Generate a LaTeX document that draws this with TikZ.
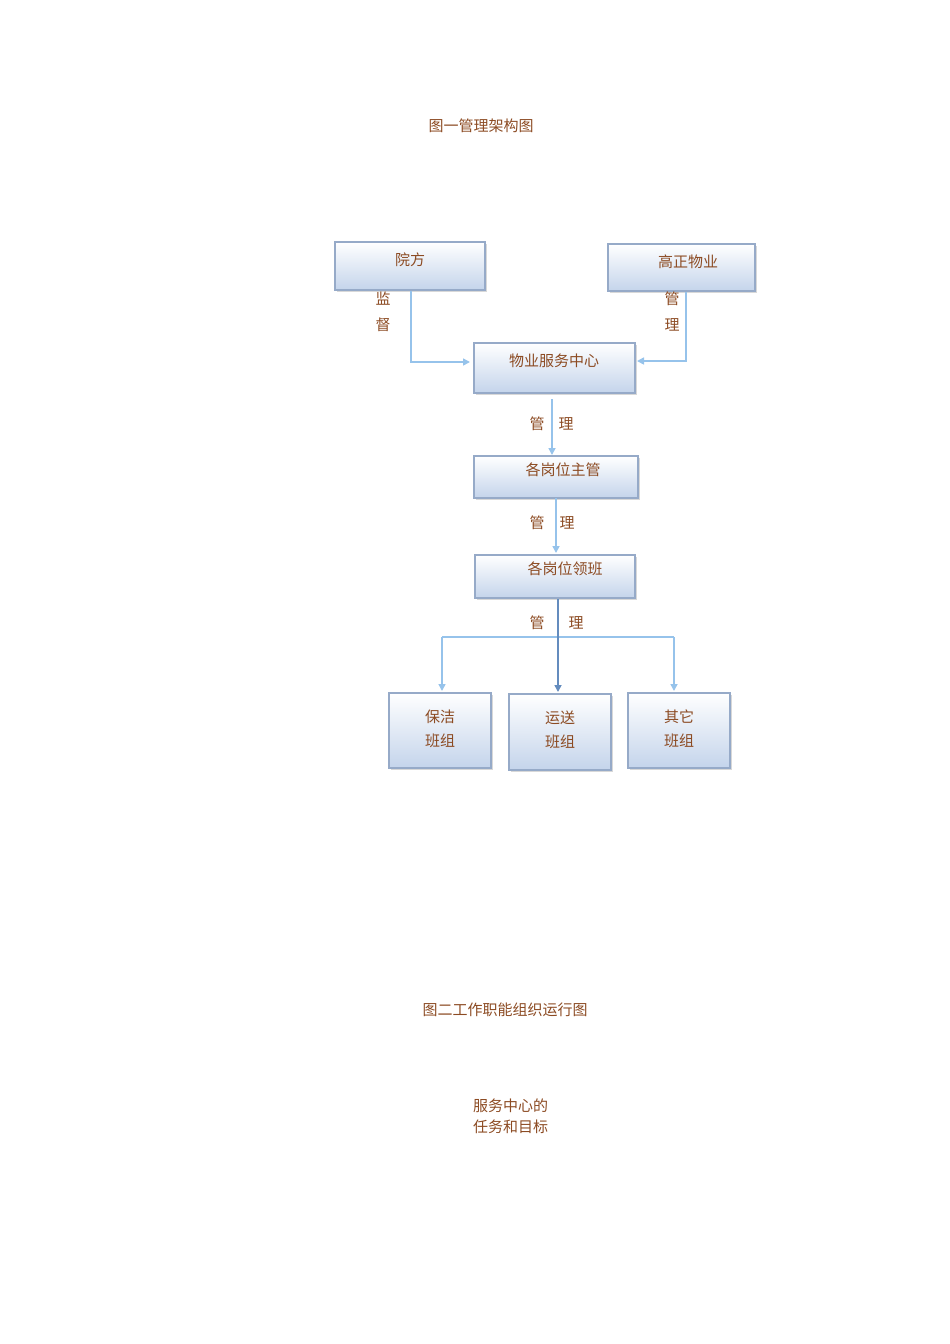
\documentclass[tikz,border=0pt]{standalone}
\usepackage{fontspec}
\newfontfamily\cjk{Noto Sans CJK SC}
\usetikzlibrary{arrows.meta,shadows}
\definecolor{txt}{RGB}{140,75,35}
\definecolor{bord}{RGB}{150,170,200}
\definecolor{lnk}{RGB}{150,195,235}
\definecolor{dlnk}{RGB}{100,140,190}
\begin{document}
\begin{tikzpicture}[x=1pt,y=-1pt,
  box/.style={draw=bord,line width=1.2pt,top color=white,bottom color={rgb,255:red,196;green,212;blue,235},
    drop shadow={shadow xshift=1.5pt,shadow yshift=-2pt,fill=gray!60},inner sep=0pt},
  lbl/.style={text=txt,font=\cjk\fontsize{15}{18}\selectfont,inner sep=0pt},
  cn/.style={draw=lnk,line width=1.6pt,-{Triangle[length=7pt,width=7pt]}},
  cl/.style={draw=lnk,line width=1.6pt}]
\useasboundingbox (0,0) rectangle (950,1344);
\node[lbl] (t1) at (481,126) {图一管理架构图};
\node[lbl] (t2) at (505,1010) {图二工作职能组织运行图};
\node[lbl,align=left,anchor=west] (t3) at (473,1116) {服务中心的\\[3pt]任务和目标};

\path[box] (335,242) rectangle (485,290); \node[lbl] (a) at (410,260) {院方};
\coordinate (aa) at (410,266);
\path[box] (608,244) rectangle (755,291); \node[lbl] (b) at (688,262) {高正物业};
\path[box] (474,343) rectangle (635,393); \node[lbl] (c) at (554,361) {物业服务中心};
\path[box] (474,456) rectangle (638,498); \node[lbl] (d) at (563,470) {各岗位主管};
\path[box] (475,555) rectangle (635,598); \node[lbl] (e) at (565,569) {各岗位领班};
\path[box] (389,693) rectangle (491,768); \node[lbl,align=center] (f) at (440,729) {保洁\\[6pt]班组};
\path[box] (509,694) rectangle (611,770); \node[lbl,align=center] (g) at (560,730) {运送\\[6pt]班组};
\path[box] (628,693) rectangle (730,768); \node[lbl,align=center] (h) at (679,729) {其它\\[6pt]班组};

\coordinate (p1) at (411,291); \coordinate (p2) at (411,362); \coordinate (p3) at (470,362);
\draw[cn] (p1) -- (p2) -- (p3);
\coordinate (q1) at (686,292); \coordinate (q2) at (686,361); \coordinate (q3) at (637,361);
\draw[cn] (q1) -- (q2) -- (q3);
\coordinate (r1) at (552,399); \coordinate (r2) at (552,455);
\draw[cn] (r1) -- (r2);
\coordinate (s1) at (556,498); \coordinate (s2) at (556,553);
\draw[cn] (s1) -- (s2);
\coordinate (u1) at (442,637); \coordinate (u2) at (674,637);
\coordinate (u3) at (442,691); \coordinate (u4) at (674,691);
\draw[cl] (u1) -- (u2);
\draw[cn] (u1) -- (u3);
\draw[cn] (u2) -- (u4);
\coordinate (v1) at (558,599); \coordinate (v2) at (558,692);
\draw[cn,draw=dlnk] (v1) -- (v2);

\node[lbl] (l1) at (383,299) {监}; \node[lbl] (l2) at (383,325) {督};
\node[lbl] (l3) at (672,299) {管}; \node[lbl] (l4) at (672,325) {理};
\node[lbl] (l5) at (537,424) {管}; \node[lbl] (l6) at (566,424) {理};
\node[lbl] (l7) at (537,523) {管}; \node[lbl] (l8) at (567,523) {理};
\node[lbl] (l9) at (537,623) {管}; \node[lbl] (l10) at (576,623) {理};
\end{tikzpicture}
\end{document}
